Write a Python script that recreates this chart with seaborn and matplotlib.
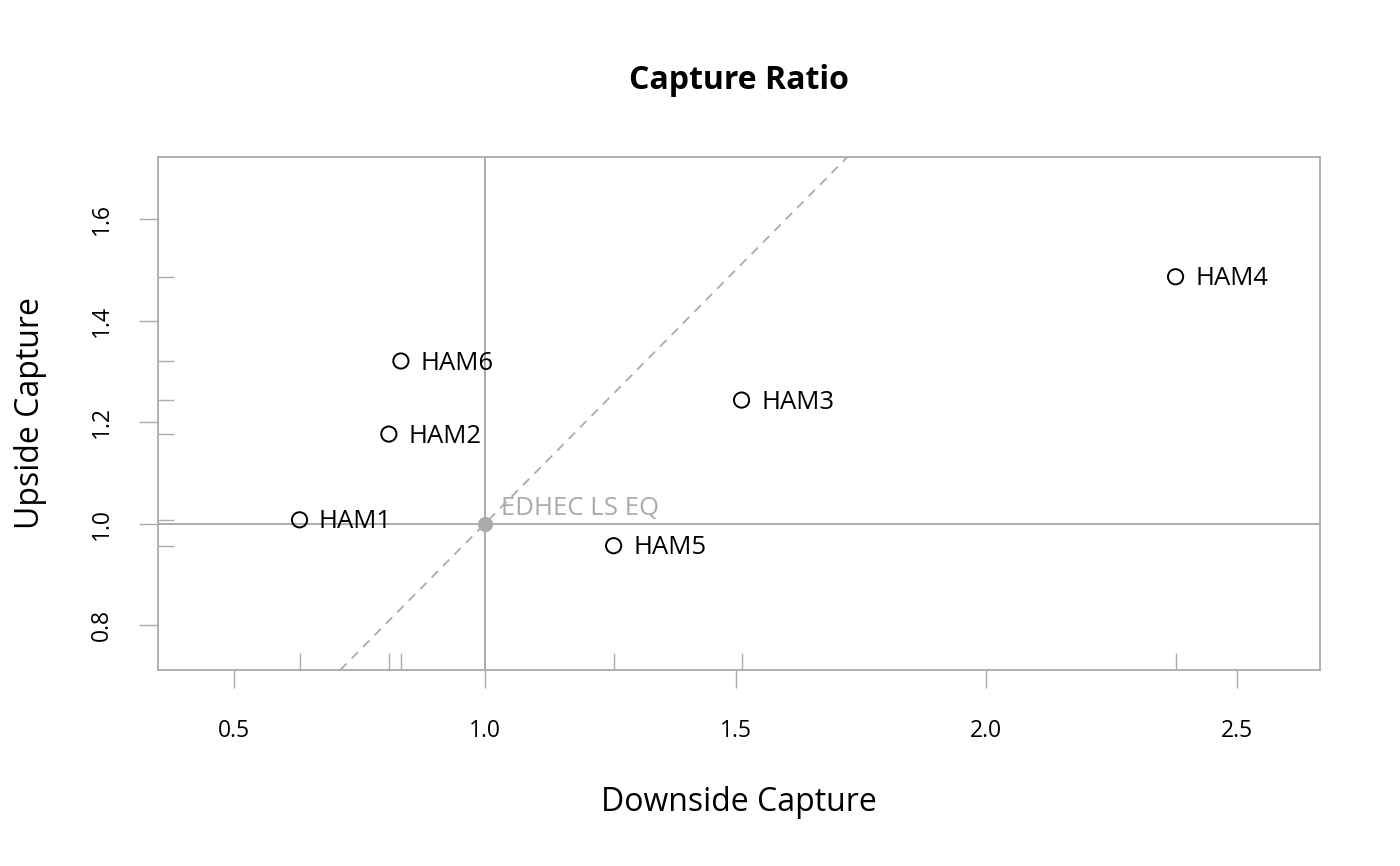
import matplotlib
matplotlib.use("Agg")
import matplotlib.pyplot as plt
import matplotlib.ticker as mtick
import pandas as pd
import seaborn as sns

# data
funds = ["HAM1", "HAM2", "HAM3", "HAM4", "HAM5", "HAM6"]
downside = [0.631, 0.809, 1.512, 2.377, 1.257, 0.833]
upside = [1.008, 1.177, 1.244, 1.487, 0.957, 1.321]
bench_name = "EDHEC LS EQ"
bench_down = [1.0]
bench_up = [1.0]
x_ticks = [0.5, 1.0, 1.5, 2.0, 2.5]
y_ticks = [0.8, 1.0, 1.2, 1.4, 1.6]

GREY = "#ABABAB"

sns.set_style("white")
plt.rcParams["font.family"] = ["Open Sans", "DejaVu Sans"]
plt.rcParams["text.color"] = "black"
plt.rcParams["axes.labelcolor"] = "black"
plt.rcParams["xtick.labelcolor"] = "black"
plt.rcParams["ytick.labelcolor"] = "black"

df = pd.DataFrame({"fund": funds, "down": downside, "up": upside})
bench = pd.DataFrame({"down": bench_down, "up": bench_up})

fig = plt.figure(figsize=(14, 8.66), dpi=100)
ax = fig.add_axes([0.1129, 0.2263, 0.8300, 0.5924])

ax.axvline(bench_down[0], color=GREY, lw=1.4, zorder=1)
ax.axhline(bench_up[0], color=GREY, lw=1.4, zorder=1)
ax.axline((bench_down[0], bench_up[0]), slope=1, color=GREY, lw=1.3, ls=(0, (5, 4)), zorder=1)

sns.scatterplot(data=df, x="down", y="up", ax=ax, s=120, marker="o",
                facecolor="none", edgecolor="black", linewidth=1.4, zorder=3)
sns.scatterplot(data=bench, x="down", y="up", ax=ax, s=120, color=GREY,
                edgecolor=GREY, linewidth=0, zorder=3)

sns.rugplot(data=df, x="down", ax=ax, height=0.033, color=GREY, lw=1.0)
sns.rugplot(data=df, y="up", ax=ax, height=0.014, color=GREY, lw=1.0)

for name, xv, yv in zip(funds, downside, upside):
    ax.annotate(name, (xv, yv), xytext=(14, -1.5), textcoords="offset points",
                ha="left", va="center", fontsize=18.5, color="black")
ax.annotate(bench_name, (bench_down[0], bench_up[0]), xytext=(12, 11),
            textcoords="offset points", ha="left", va="center",
            fontsize=18.5, color=GREY)

ax.set_xlim(0.349, 2.665)
ax.set_ylim(0.712, 1.723)
ax.set_xticks(x_ticks)
ax.set_yticks(y_ticks)
ax.xaxis.set_major_formatter(mtick.FormatStrFormatter("%.1f"))
ax.yaxis.set_major_formatter(mtick.FormatStrFormatter("%.1f"))
ax.tick_params(axis="x", direction="out", length=13, width=1.0, color=GREY,
               pad=22, labelsize=16.5, bottom=True)
ax.tick_params(axis="y", direction="out", length=14, width=1.0, color=GREY,
               pad=18, labelsize=16.5, left=True)
for lab in ax.get_yticklabels():
    lab.set_rotation(90)
    lab.set_va("center")

for sp in ax.spines.values():
    sp.set_color(GREY)
    sp.set_linewidth(1.3)

ax.set_xlabel("Downside Capture", fontsize=23)
ax.set_ylabel("Upside Capture", fontsize=23)
ax.xaxis.set_label_coords(0.5, -0.259)
ax.xaxis.label.set_va("center")
ax.yaxis.set_label_coords(-0.110, 0.5)
ax.yaxis.label.set_va("center")

ax.set_title("Capture Ratio", fontsize=23, fontweight="bold", y=1.133, va="center")

fig.savefig("out.png", dpi=100)
